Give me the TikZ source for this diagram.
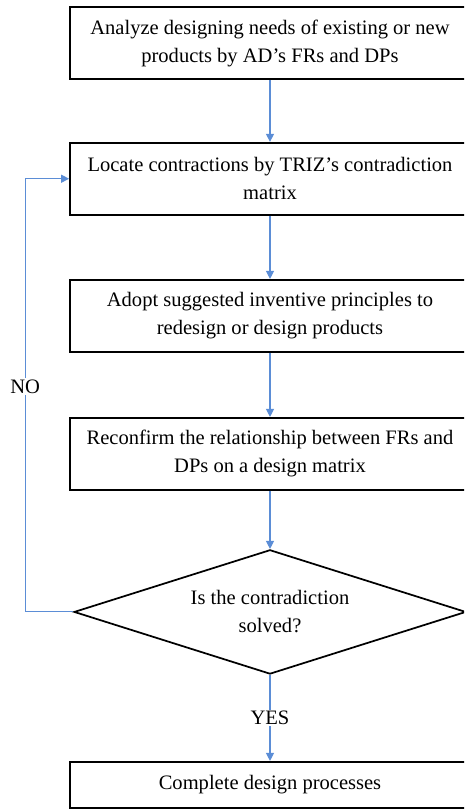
\documentclass[tikz,border=0pt]{standalone}
\usepackage{fontspec}
\setmainfont{Liberation Serif}
\usetikzlibrary{positioning,shapes.geometric,arrows.meta}

\begin{document}
\begin{tikzpicture}[
x=0.75pt, y=-0.75pt,
every node/.style={font=\fontsize{15.4}{21}\selectfont},
stepbox/.style={rectangle, draw=black, line width=1.3pt, minimum width=300pt, minimum height=54pt, align=center, inner sep=0pt},
endbox/.style={stepbox, minimum height=34.7pt},
decision/.style={diamond, draw=black, line width=1.3pt, minimum width=294pt, minimum height=93.2pt, aspect=3, align=center, inner sep=0pt},
flow/.style={draw={rgb,255:red,91;green,141;blue,214}, line width=0.8pt, -{Triangle[width=6pt,length=6pt]}},
label/.style={fill=white, inner sep=1pt},
]
\useasboundingbox (0,0) rectangle (464,810);
\clip (0,0) rectangle (464,810);

%Nodes
\node[stepbox]   (analyze)   at (270,43) {Analyze designing needs of existing or new\\products by AD’s FRs and DPs};
\node[stepbox]   (locate)    [below=46.5pt of analyze] {Locate contractions by TRIZ’s contradiction\\matrix};
\node[stepbox]   (adopt)     [below=47.5pt of locate] {Adopt suggested inventive principles to\\redesign or design products};
\node[stepbox]   (reconfirm) [below=48.2pt of adopt] {Reconfirm the relationship between FRs and\\DPs on a design matrix};
\node[decision]  (solved)    [below=43.7pt of reconfirm] {Is the contradiction\\solved?};
\node[endbox]    (complete)  [below=64.5pt of solved] {Complete design processes};
\coordinate (back) at ([xshift=-36pt]solved.west);

%Lines
\draw[flow] (analyze) -- (locate);
\draw[flow] (locate) -- (adopt);
\draw[flow] (adopt) -- (reconfirm);
\draw[flow] (reconfirm) -- (solved);
\draw[flow] (solved) -- node[label] {YES} (complete);
\draw[flow] (solved.west) -- (back) |- node[label, pos=0.26] {NO} (locate.west);

\end{tikzpicture}
\end{document}
